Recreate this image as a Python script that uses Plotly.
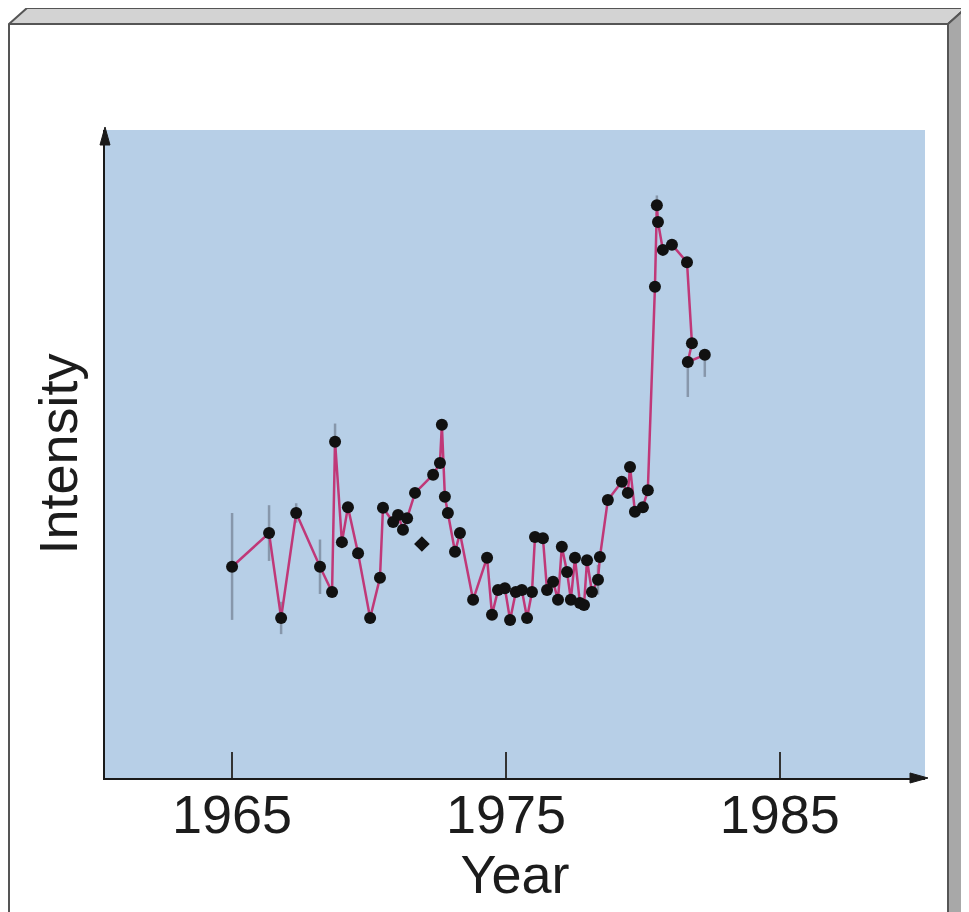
import plotly.graph_objects as go

# ---- data (intensity in arbitrary units) ----
years = [1965.00, 1966.35, 1966.79, 1967.34, 1968.21, 1968.65, 1968.76, 1969.01,
         1969.23, 1969.60, 1970.04, 1970.40, 1970.51, 1970.88, 1971.06, 1971.24,
         1971.39, 1971.68, 1972.34, 1972.59, 1972.66, 1972.77, 1972.88, 1973.14,
         1973.32, 1973.80, 1974.31, 1974.49, 1974.71, 1974.96, 1975.15, 1975.36,
         1975.58, 1975.77, 1975.95, 1976.06, 1976.35, 1976.50, 1976.72, 1976.90,
         1977.04, 1977.23, 1977.37, 1977.52, 1977.70, 1977.85, 1977.96, 1978.14,
         1978.36, 1978.43, 1978.72, 1979.23, 1979.45, 1979.53, 1979.71, 1980.00,
         1980.18, 1980.44, 1980.51, 1980.55, 1980.73, 1981.06, 1981.61, 1981.79,
         1981.64, 1982.26]
intensity = [32.6, 37.8, 24.7, 40.9, 32.6, 28.7, 51.9, 36.4,
             41.8, 34.7, 24.7, 30.9, 41.7, 39.5, 40.6, 38.3,
             40.1, 44.0, 46.8, 48.6, 54.5, 43.4, 40.9, 34.9,
             37.8, 27.5, 34.0, 25.2, 29.0, 29.3, 24.4, 28.7,
             29.0, 24.7, 28.7, 37.2, 37.0, 29.0, 30.3, 27.5,
             35.7, 31.8, 27.5, 34.0, 27.0, 26.7, 33.6, 28.7,
             30.6, 34.1, 42.9, 45.7, 44.0, 48.0, 41.1, 41.8,
             44.4, 75.8, 88.4, 85.8, 81.5, 82.3, 79.6, 67.1,
             64.2, 65.3]
err_up = [8.3, 4.3, 2.5, 1.5, 4.2, 0, 2.8, 0,
          0, 0, 0, 0, 0, 0, 0, 0,
          0, 0, 0, 0, 0, 0, 0, 0,
          0, 0, 0, 0, 0, 0, 0, 0,
          0, 0, 0, 0, 0, 0, 0, 0,
          0, 0, 0, 0, 0, 0, 0, 0,
          2.3, 0, 0, 0, 0, 0, 0, 0,
          0, 0, 1.5, 0, 0, 0, 0, 0,
          0, 0]
err_down = [8.2, 4.3, 2.5, 1.5, 4.2, 0, 2.8, 0,
            0, 0, 0, 0, 0, 0, 0, 0,
            0, 0, 0, 0, 0, 0, 0, 0,
            0, 0, 0, 0, 0, 0, 0, 0,
            0, 0, 0, 0, 0, 0, 0, 0,
            0, 0, 0, 0, 0, 0, 0, 0,
            2.3, 0, 0, 0, 0, 0, 0, 0,
            0, 0, 1.5, 0, 0, 0, 0, 0,
            5.4, 3.4]
lone_year = [1971.93]
lone_intensity = [36.1]

tick_vals = [1965, 1975, 1985]
tick_text = ["1965", "1975", "1985"]

# ---- geometry (page has an 8px body margin; coordinates below are page pixels) ----
OFF = 8
W, H = 969 - 2 * OFF, 912 - OFF
L = 105 - OFF
T = 130 - OFF
R = W - (925 - OFF)
B = H - (778 - OFF)
PW, PH = W - L - R, H - T - B


def px(x):
    return (x - OFF - L) / PW


def py(y):
    return (H - B - (y - OFF)) / PH


def path(points):
    return "M " + " L ".join(f"{px(a):.5f},{py(b):.5f}" for a, b in points) + " Z"


fig = go.Figure()
fig.add_trace(go.Scatter(
    x=years, y=intensity, mode="lines+markers",
    line=dict(color="#c03878", width=2.5),
    marker=dict(color="#111111", size=12),
    error_y=dict(type="data", symmetric=False, array=err_up, arrayminus=err_down,
                 color="#8797ab", thickness=2.5, width=0),
    showlegend=False, hoverinfo="x+y"))
fig.add_trace(go.Scatter(
    x=lone_year, y=lone_intensity, mode="markers",
    marker=dict(color="#111111", size=12, symbol="diamond"),
    showlegend=False))

font = "Liberation Sans, Arial, sans-serif"
shapes = [
    # 3D frame: top face, right face, front-left edge
    dict(type="path", xref="paper", yref="paper",
         path=path([(9, 24), (27, 8), (966, 8), (948, 24)]),
         fillcolor="#d3d3d3", line=dict(color="#555555", width=2)),
    dict(type="path", xref="paper", yref="paper",
         path=path([(948, 24), (966, 8), (966, 920), (948, 920)]),
         fillcolor="#a8a8a8", line=dict(color="#555555", width=2)),
    dict(type="line", xref="paper", yref="paper",
         x0=px(9), y0=py(24), x1=px(9), y1=py(920),
         line=dict(color="#555555", width=2)),
    # axis arrowheads
    dict(type="path", xref="paper", yref="paper",
         path=path([(105, 127), (100, 145), (110, 145)]),
         fillcolor="#1a1a1a", line=dict(color="#1a1a1a", width=1)),
    dict(type="path", xref="paper", yref="paper",
         path=path([(928, 778), (910, 773), (910, 783)]),
         fillcolor="#1a1a1a", line=dict(color="#1a1a1a", width=1)),
]

fig.update_layout(
    width=W, height=H,
    margin=dict(l=L, r=R, t=T, b=B),
    paper_bgcolor="white",
    plot_bgcolor="#b7cfe7",
    font=dict(family=font, color="#1c1c1c"),
    shapes=shapes,
    xaxis=dict(range=[1960.36, 1990.3], tickmode="array", tickvals=tick_vals,
               ticktext=tick_text, ticks="inside", ticklen=26, tickwidth=1.5,
               tickcolor="#333333", showgrid=False, zeroline=False,
               showline=True, linecolor="#1a1a1a", linewidth=2,
               ticklabelstandoff=-12,
               tickfont=dict(size=54, family=font, color="#1c1c1c"),
               title=dict(text="Year", font=dict(size=54, family=font, color="#1c1c1c"),
                          standoff=5)),
    yaxis=dict(range=[0, 100], showticklabels=False, ticks="", showgrid=False,
               zeroline=False, showline=True, linecolor="#1a1a1a", linewidth=2,
               title=dict(text="Intensity", font=dict(size=54, family=font, color="#1c1c1c"),
                          standoff=8)),
)

fig.write_html("out.html")
